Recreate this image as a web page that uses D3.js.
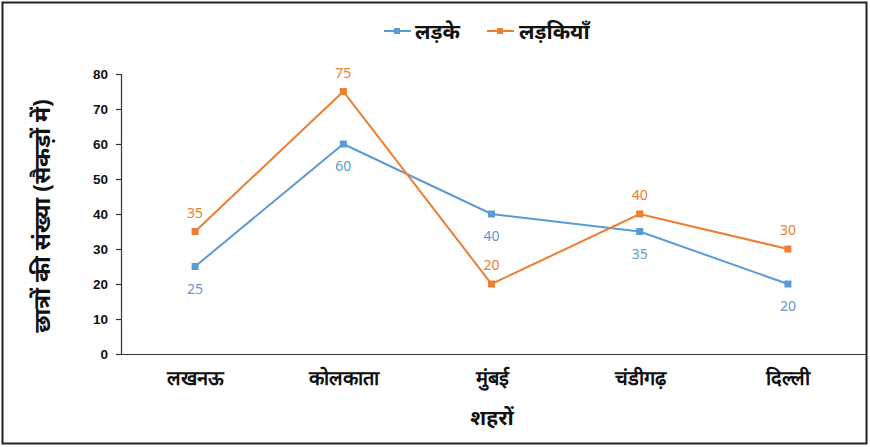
<!DOCTYPE html>
<html><head><meta charset="utf-8">
<script src="https://cdn.jsdelivr.net/npm/d3@7/dist/d3.min.js"></script>
<style>
html,body{margin:0;padding:0;background:#fff;}
svg{display:block;font-family:"Noto Sans","Open Sans",sans-serif;}
</style></head>
<body>
<svg id="c" width="870" height="447"></svg>
<script>
const categories = ["लखनऊ","कोलकाता","मुंबई","चंडीगढ़","दिल्ली"];
const boys = [25,60,40,35,20];
const girls = [35,75,20,40,30];
const yTicks = [0,10,20,30,40,50,60,70,80];
const seriesNames = ["लड़के","लड़कियाँ"];
const colors = ["#5B9BD5","#ED7D31"];

(function(){
const svg = d3.select("#c");
svg.append("rect").attr("x",2.5).attr("y",2.5).attr("width",864).attr("height",441)
  .attr("fill","#fff").attr("stroke","#222").attr("stroke-width",2);

const mL=121, mR=862, mT=74, mB=354;
const x = d3.scalePoint().domain(categories).range([mL,mR]).padding(0.5);
const y = d3.scaleLinear().domain([0,80]).range([mB,mT]);

const yAxis = svg.append("g").attr("transform",`translate(${mL},0)`)
  .call(d3.axisLeft(y).tickValues(yTicks).tickSize(5).tickPadding(8));
yAxis.selectAll("path,line").attr("stroke","#333").attr("stroke-width",1.2);
yAxis.selectAll("text").attr("font-size",13.5).attr("font-weight","bold").attr("fill","#111");

const xAxis = svg.append("g").attr("transform",`translate(0,${mB})`)
  .call(d3.axisBottom(x).tickSize(0).tickPadding(17));
xAxis.select("path").attr("d",`M${mL},0.5H${mR+4}`).attr("stroke","#333").attr("stroke-width",1.2);
xAxis.selectAll("text").attr("font-size",20).attr("font-weight","bold").attr("fill","#111");

svg.append("text").attr("x",492).attr("y",425).attr("text-anchor","middle")
  .attr("font-size",21).attr("font-weight","bold").attr("fill","#111").text("शहरों");
svg.append("text").attr("transform","translate(50,216) rotate(-90)").attr("text-anchor","middle")
  .attr("font-size",23).attr("font-weight","bold").attr("fill","#111").text("छात्रों की संख्या (सैकड़ों में)");

const series=[boys,girls];
const line = d3.line().x((d,i)=>x(categories[i])).y(d=>y(d));
series.forEach((s,k)=>{
  svg.append("path").datum(s).attr("d",line).attr("fill","none")
    .attr("stroke",colors[k]).attr("stroke-width",2);
  svg.selectAll(null).data(s).enter().append("rect")
    .attr("x",(d,i)=>x(categories[i])-3.5).attr("y",d=>y(d)-3.5)
    .attr("width",7).attr("height",7).attr("fill",colors[k]);
  svg.selectAll(null).data(s).enter().append("text")
    .attr("x",(d,i)=>x(categories[i])).attr("y",(d)=>k===0?y(d)+27:y(d)-14)
    .attr("text-anchor","middle").attr("font-size",14).attr("fill",colors[k]).text(d=>d);
});

const lg = [{x:384,tx:415},{x:487,tx:519}];
lg.forEach((p,k)=>{
  svg.append("line").attr("x1",p.x).attr("x2",p.x+27).attr("y1",31).attr("y2",31)
    .attr("stroke",colors[k]).attr("stroke-width",2);
  svg.append("rect").attr("x",p.x+10).attr("y",28).attr("width",6).attr("height",6).attr("fill",colors[k]);
  svg.append("text").attr("x",p.tx).attr("y",39).attr("font-size",21).attr("font-weight","bold").attr("fill","#111").text(seriesNames[k]);
});
})();
</script>
</body></html>
